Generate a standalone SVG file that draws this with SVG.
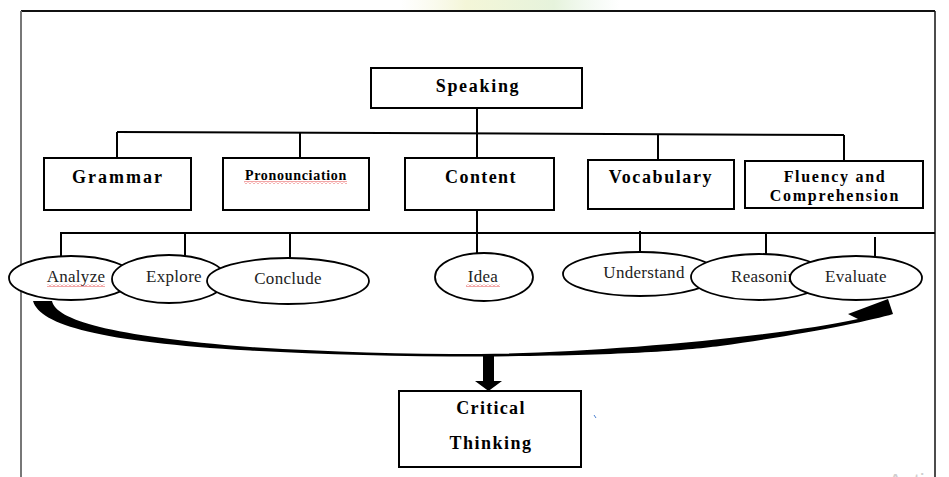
<svg xmlns="http://www.w3.org/2000/svg" width="949" height="477" viewBox="0 0 949 477">
<defs>
<style>
.box{fill:#fff;stroke:#000;stroke-width:2}
.ell{fill:#fff;stroke:#000;stroke-width:1.8}
.ln{stroke:#000;stroke-width:2;fill:none}
.hd{font-family:"Liberation Serif","Times New Roman",serif;font-weight:bold;fill:#000;text-anchor:middle}
.lb{font-family:"Liberation Serif","Times New Roman",serif;font-size:17px;fill:#222;text-anchor:middle;letter-spacing:0.3px}
.lbs{text-anchor:start}
</style>
<pattern id="squiggle" width="4" height="3" patternUnits="userSpaceOnUse">
<path d="M0,2.5 L2,0.5 L4,2.5" fill="none" stroke="#e02020" stroke-width="0.8"/>
</pattern>
<linearGradient id="wm" x1="0" y1="0" x2="1" y2="0">
<stop offset="0" stop-color="#f7f7e4" stop-opacity="0"/>
<stop offset="0.3" stop-color="#f4f6d8"/>
<stop offset="0.7" stop-color="#e6f3dc"/>
<stop offset="1" stop-color="#e8f5ea" stop-opacity="0"/>
</linearGradient>
</defs>
<rect width="949" height="477" fill="#fff"/>
<rect x="400" y="0" width="220" height="10" fill="url(#wm)"/>

<g id="frame">
<line x1="21" y1="11" x2="935" y2="11" stroke="#111" stroke-width="2"/>
<line x1="21" y1="11" x2="21" y2="477" stroke="#777" stroke-width="2"/>
<line x1="935" y1="11" x2="935" y2="477" stroke="#111" stroke-width="1.5"/>
</g>

<g id="connectors">
<path class="ln" d="M117,132 L844,135"/>
<path class="ln" d="M477,108 V157"/>
<path class="ln" d="M117,132 V158"/>
<path class="ln" d="M300,133 V158"/>
<path class="ln" d="M658,134 V160"/>
<path class="ln" d="M844,135 V161"/>
<path class="ln" d="M60,233 H935"/>
<path class="ln" d="M61,233 V257"/>
<path class="ln" d="M185,233 V256"/>
<path class="ln" d="M290,233 V259"/>
<path class="ln" d="M477,210 V254"/>
<path class="ln" d="M640,231 V253"/>
<path class="ln" d="M766,233 V255"/>
<path class="ln" d="M875,237 V257"/>
<path id="curved-arrow" fill="#000" d="M52,301 C56,320 110,336 250,347 C330,352 400,354 480,354 C600,353 775,337 858,319 L848,314 L888,299 L893,314 C870,321 800,335 720,346 C680,351 620,355.5 480,356.5 C400,356.5 320,354.5 250,350.5 C100,342 40,325 33,301 Z"/>
<path id="down-arrow" fill="#000" d="M483,355 H494 V381 H502 L488.5,391 L475,381 H483 Z"/>
</g>

<g id="speaking">
<rect class="box" x="371" y="68" width="211" height="40"/>
<text class="hd" x="478" y="92" font-size="18" letter-spacing="1.7">Speaking</text>
</g>
<g id="grammar">
<rect class="box" x="44" y="158" width="147" height="52"/>
<text class="hd" x="118" y="183" font-size="18" letter-spacing="2">Grammar</text>
</g>
<g id="pronounciation">
<rect class="box" x="223" y="158" width="146" height="52"/>
<text class="hd" x="296" y="180" font-size="14" letter-spacing="0.7">Pronounciation</text>
<rect x="244" y="181" width="103" height="3" fill="url(#squiggle)"/>
</g>
<g id="content">
<rect class="box" x="405" y="158" width="149" height="52"/>
<text class="hd" x="481" y="183" font-size="18" letter-spacing="1.4">Content</text>
</g>
<g id="vocabulary">
<rect class="box" x="588" y="160" width="146" height="49"/>
<text class="hd" x="661" y="183" font-size="18" letter-spacing="1.6">Vocabulary</text>
</g>
<g id="fluency">
<rect class="box" x="745" y="161" width="178" height="47"/>
<text class="hd" x="835" y="182" font-size="16" letter-spacing="1.7">Fluency and</text>
<text class="hd" x="835" y="201" font-size="16" letter-spacing="1.7">Comprehension</text>
</g>

<g id="analyze">
<ellipse class="ell" cx="71" cy="278" rx="62" ry="22"/>
<text class="lb" x="76" y="282">Analyze</text>
<rect x="47" y="284" width="58" height="3" fill="url(#squiggle)"/>
</g>
<g id="explore">
<ellipse class="ell" cx="169" cy="279" rx="57" ry="24"/>
<text class="lb" x="174" y="282">Explore</text>
</g>
<g id="conclude">
<ellipse class="ell" cx="288" cy="281" rx="81" ry="23"/>
<text class="lb" x="288" y="284">Conclude</text>
</g>
<g id="idea">
<ellipse class="ell" cx="484" cy="277" rx="49" ry="24"/>
<text class="lb" x="483" y="282">Idea</text>
<rect x="466" y="284" width="34" height="3" fill="url(#squiggle)"/>
</g>
<g id="understand">
<ellipse class="ell" cx="640" cy="274" rx="77" ry="22"/>
<text class="lb" x="644" y="278">Understand</text>
</g>
<g id="reasoning">
<ellipse class="ell" cx="759" cy="277" rx="68" ry="23"/>
<text class="lb lbs" x="731" y="282">Reasoning</text>
</g>
<g id="evaluate">
<ellipse class="ell" cx="856" cy="278" rx="66" ry="22"/>
<text class="lb" x="856" y="282">Evaluate</text>
</g>

<g id="critical-thinking">
<rect class="box" x="399" y="391" width="182" height="76"/>
<text class="hd" x="491" y="414" font-size="18" letter-spacing="1.3">Critical</text>
<text class="hd" x="491" y="449" font-size="18" letter-spacing="1.5">Thinking</text>
</g>
<line x1="594" y1="415" x2="596" y2="418" stroke="#4a7fd0" stroke-width="1"/>
<text x="888" y="489" font-family="Liberation Sans, Arial, sans-serif" font-size="22" fill="#cfcfcf">Activat</text>
</svg>
